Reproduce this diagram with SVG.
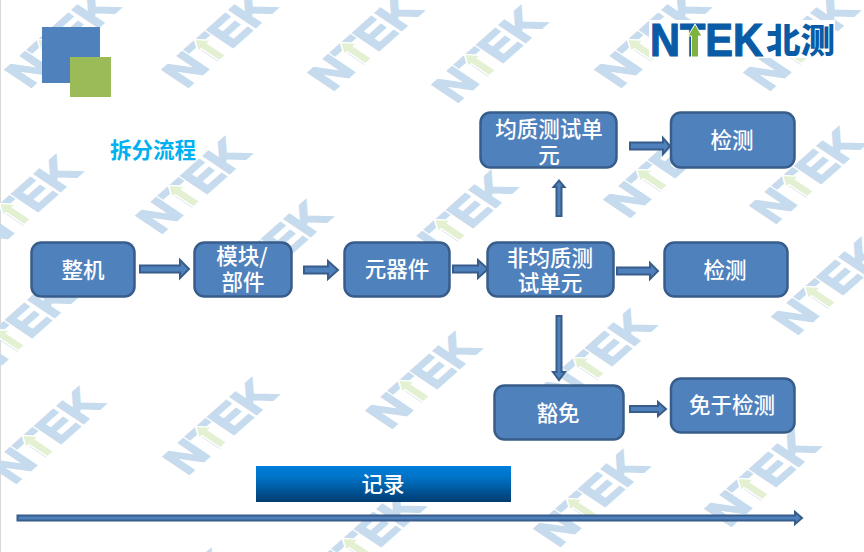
<svg xmlns="http://www.w3.org/2000/svg" width="864" height="552" viewBox="0 0 864 552">
<style>
.node rect{fill:#4f81bd;stroke:#385d8a;stroke-width:2.5}
.node text{fill:#fff;font-family:"Noto Sans CJK SC","Liberation Sans",sans-serif;font-size:21.5px;font-weight:500;text-anchor:middle}
.arrow{fill:#4f81bd;stroke:#385d8a;stroke-width:2}
.wmtext{font-family:"Liberation Sans",sans-serif;font-weight:bold;font-size:46px;fill:#c6dbee;stroke:#c6dbee;stroke-width:2}
.wmarrow{fill:#e3f0d2;stroke:#fff;stroke-width:1.5}
</style>
<defs>
<linearGradient id="bar" x1="0" y1="0" x2="0" y2="1"><stop offset="0" stop-color="#007ddb"/><stop offset="0.3" stop-color="#0074c9"/><stop offset="1" stop-color="#003c70"/></linearGradient>
<g id="wm" transform="matrix(.79 -.70 .82 .55 -3 -1)">
<text class="wmtext" x="0" y="0" textLength="116" lengthAdjust="spacingAndGlyphs">NTEK</text>
<path class="wmarrow" d="M45 -33L53 -21H49V1H41V-21H37Z"/>
</g>
</defs>
<rect width="864" height="552" fill="#fff"/>
<rect x="0" y="0" width="1" height="552" fill="#d9d9d9"/>
<g id="watermarks">
<use href="#wm" x="32" y="90"/><use href="#wm" x="189" y="90"/><use href="#wm" x="335" y="93"/>
<use href="#wm" x="459" y="105"/><use href="#wm" x="622" y="90"/><use href="#wm" x="771" y="93"/>
<use href="#wm" x="-6" y="254"/><use href="#wm" x="163" y="236"/><use href="#wm" x="244" y="299"/>
<use href="#wm" x="429" y="270"/><use href="#wm" x="631" y="220"/><use href="#wm" x="777" y="226"/>
<use href="#wm" x="-12" y="380"/><use href="#wm" x="799" y="337"/><use href="#wm" x="393" y="431"/>
<use href="#wm" x="568" y="408"/><use href="#wm" x="17" y="486"/><use href="#wm" x="190" y="477"/>
<use href="#wm" x="561" y="549"/><use href="#wm" x="732" y="529"/><use href="#wm" x="337" y="589"/>
<use href="#wm" x="149" y="648"/>
</g>
<g id="deco">
<rect x="42" y="27" width="58" height="56" fill="#4f81bd"/>
<rect x="70" y="57" width="41" height="40" fill="#9bbb59"/>
</g>
<g id="logo">
<rect x="649" y="20" width="186" height="38" fill="#fff"/>
<text x="650" y="56" font-family="Liberation Sans, sans-serif" font-weight="bold" font-size="46" fill="#0a5ba6" stroke="#0a5ba6" stroke-width="1.2" textLength="113" lengthAdjust="spacingAndGlyphs">NTEK</text>
<path d="M695 24L702 36H698.5V57H691.5V36H688Z" fill="#7fb23f" stroke="#fff" stroke-width="1"/>
<text x="766" y="52.5" font-family="Noto Sans CJK SC, sans-serif" font-weight="900" font-size="34.5" fill="#0a5ba6">北测</text>
</g>
<text id="title" x="153" y="158" text-anchor="middle" font-family="Noto Sans CJK SC, sans-serif" font-weight="700" font-size="21.5" fill="#00b0f0">拆分流程</text>
<g id="connectors">
<path class="arrow" d="M140 265.5H180V260L189 269L180 278V272.5H140Z"/>
<path class="arrow" d="M304 266.5H328V261L338 270L328 279V273.5H304Z"/>
<path class="arrow" d="M453 265.5H478V260L488 269L478 278V272.5H453Z"/>
<path class="arrow" d="M617 267.5H650V263L658 271L650 279V274.5H617Z"/>
<path class="arrow" d="M630 142.5H663V138L670 146L663 154V149.5H630Z"/>
<path class="arrow" d="M556.5 216V187H553.5L559 180.5L564.5 187H561.5V216Z"/>
<path class="arrow" d="M556.5 316V372H553L559 380L565 372H561.5V316Z"/>
<path class="arrow" d="M630 406H658V402L666 409L658 416V412H630Z"/>
<path class="arrow" d="M17.5 515.5H795V512L802 518L795 524V520.5H17.5Z"/>
</g>
<g id="n-zhengji" class="node"><rect x="31.5" y="242.5" width="103" height="54" rx="10"/><text x="83" y="278">整机</text></g>
<g id="n-mokuai" class="node"><rect x="194.5" y="242.5" width="97" height="54" rx="10"/><text x="242" y="264">模块/<tspan x="243" dy="26">部件</tspan></text></g>
<g id="n-yuanqijian" class="node"><rect x="344.5" y="242.5" width="105" height="54" rx="10"/><text x="397" y="277">元器件</text></g>
<g id="n-feijunzhi" class="node"><rect x="487.5" y="242.5" width="126" height="54" rx="10"/><text x="550" y="266">非均质测<tspan x="550" dy="25">试单元</tspan></text></g>
<g id="n-jiance2" class="node"><rect x="664.5" y="242.5" width="123" height="54" rx="10"/><text x="725" y="278">检测</text></g>
<g id="n-junzhi" class="node"><rect x="480.5" y="112.5" width="136" height="55" rx="10"/><text x="549" y="137">均质测试单<tspan x="549" dy="26">元</tspan></text></g>
<g id="n-jiance1" class="node"><rect x="671" y="112.5" width="123.5" height="55" rx="10"/><text x="732" y="148">检测</text></g>
<g id="n-huomian" class="node"><rect x="494.5" y="385.5" width="129" height="54" rx="10"/><text x="558" y="421">豁免</text></g>
<g id="n-mianyu" class="node"><rect x="671" y="378.5" width="123.5" height="54" rx="10"/><text x="732" y="413">免于检测</text></g>
<g id="n-jilu"><rect x="256" y="466" width="255" height="36" fill="url(#bar)"/><text x="383" y="492" fill="#fff" text-anchor="middle" font-family="Noto Sans CJK SC, sans-serif" font-size="21.5" font-weight="500">记录</text></g>
</svg>
